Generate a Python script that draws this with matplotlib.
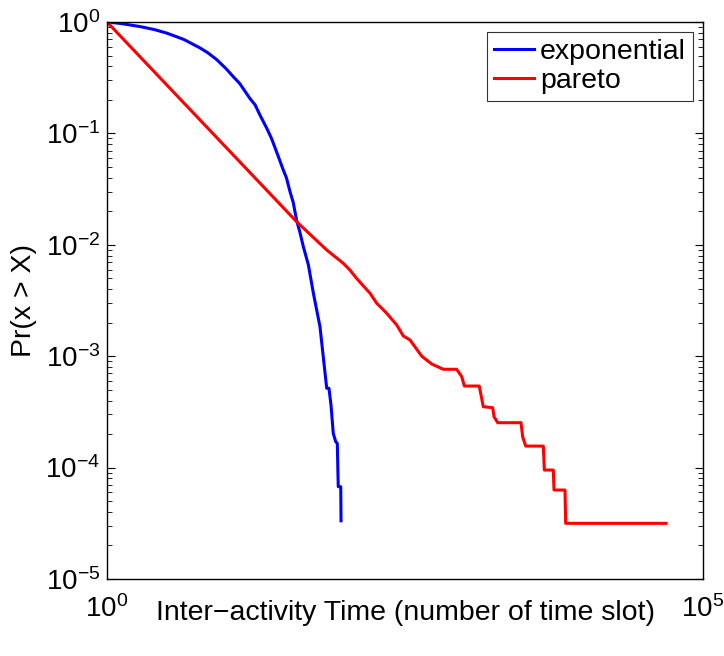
import matplotlib
matplotlib.use("Agg")
import matplotlib.pyplot as plt
from matplotlib.ticker import FixedLocator, FixedFormatter, LogLocator, NullLocator

plt.rcParams['font.family'] = ['Liberation Sans', 'DejaVu Sans']
plt.rcParams['mathtext.fontset'] = 'custom'
plt.rcParams['mathtext.rm'] = 'Liberation Sans'
plt.rcParams['mathtext.default'] = 'regular'

# exponential CCDF
exp_x = [1, 1.3, 1.89, 2.5, 3.17, 4.37, 5.0, 6.03, 7.0, 8.32, 10.0, 11.4, 13.0,
         15.8, 17.5, 19.2, 21.9, 24.0, 26.5, 28.0, 30.1, 32.0, 34.3, 36.5, 39.0,
         41.5, 44.4, 48.9, 53.8, 61.2, 69.7, 72.8, 75.7, 79.1, 82.9, 85.5,
         87.1, 91.4, 91.9]
exp_y = [1, 0.97, 0.91, 0.855, 0.795, 0.70, 0.65, 0.585, 0.53, 0.46, 0.38,
         0.325, 0.28, 0.206, 0.18, 0.146, 0.111, 0.09, 0.068, 0.058, 0.047,
         0.040, 0.030, 0.024, 0.0165, 0.013, 0.0096, 0.0066, 0.0037, 0.00184,
         0.000515, 0.000515, 0.000365, 0.000203, 0.000171, 0.000165, 6.74e-5,
         6.74e-5, 3.33e-5]

# pareto CCDF
par_x = [1, 39.0, 69.7, 96.0, 109, 124, 161, 183, 222, 269, 306, 348, 437, 530,
         663, 858, 946, 995, 1327, 1435, 1721, 1765, 1897, 2974, 3071, 3256,
         4573, 4667, 5548, 5623, 6954, 7047, 48980]
par_y = [1, 0.0161, 0.00898, 0.00682, 0.00594, 0.00500, 0.00367, 0.00299,
         0.00243, 0.00191, 0.00152, 0.00140, 0.00100, 0.000851, 0.000763,
         0.000763, 0.000655, 0.000540, 0.000540, 0.000352, 0.000345, 0.000286,
         0.000253, 0.000253, 0.000189, 0.000156, 0.000156, 9.51e-5, 9.51e-5,
         6.29e-5, 6.29e-5, 3.16e-5, 3.16e-5]

xticks = [1, 1e5]
xtick_labels = ['$10^{0}$', '$10^{5}$']
yticks = [1e-5, 1e-4, 1e-3, 1e-2, 1e-1, 1]
ytick_labels = ['$10^{\u22125}$', '$10^{\u22124}$', '$10^{\u22123}$',
                '$10^{\u22122}$', '$10^{\u22121}$', '$10^{0}$']

fig = plt.figure(figsize=(7.24, 6.56), dpi=100)
ax = fig.add_axes([107/724, 1 - 579/656, (703 - 107)/724, (579 - 22)/656])

ax.plot(exp_x, exp_y, color='#0000ff', lw=2.2, label='exponential')
ax.plot(par_x, par_y, color='#ff0000', lw=2.2, label='pareto')

ax.set_xscale('log')
ax.set_yscale('log')
ax.set_xlim(1, 1e5)
ax.set_ylim(1e-5, 1)

ax.xaxis.set_major_locator(FixedLocator(xticks))
ax.xaxis.set_major_formatter(FixedFormatter(xtick_labels))
ax.xaxis.set_minor_locator(NullLocator())
ax.yaxis.set_major_locator(FixedLocator(yticks))
ax.yaxis.set_major_formatter(FixedFormatter(ytick_labels))
ax.yaxis.set_minor_locator(LogLocator(base=10, subs=range(2, 10), numticks=20))

ax.tick_params(axis='y', which='both', direction='in', left=True, right=True)
ax.tick_params(axis='y', which='major', length=6, width=0.8, pad=5)
ax.tick_params(axis='y', which='minor', length=3.5, width=0.6)
ax.tick_params(axis='x', which='major', length=0, pad=12)
ax.tick_params(labelsize=20)

for s in ax.spines.values():
    s.set_linewidth(1.0)

ax.set_xlabel('Inter\u2212activity Time (number of time slot)', fontsize=20.5)
ax.xaxis.set_label_coords(0.5, -0.038)
ax.set_ylabel('Pr(x > X)', fontsize=20.5)
ax.yaxis.set_label_coords(-0.117, 0.5)

leg = ax.legend(loc='upper right', fontsize=20.5, frameon=True, fancybox=False,
                edgecolor='black', handlelength=1.4, handletextpad=0.2,
                borderpad=0.25, labelspacing=0.1, borderaxespad=0.35)
leg.get_frame().set_linewidth(0.8)

fig.savefig('out.png', dpi=100)
